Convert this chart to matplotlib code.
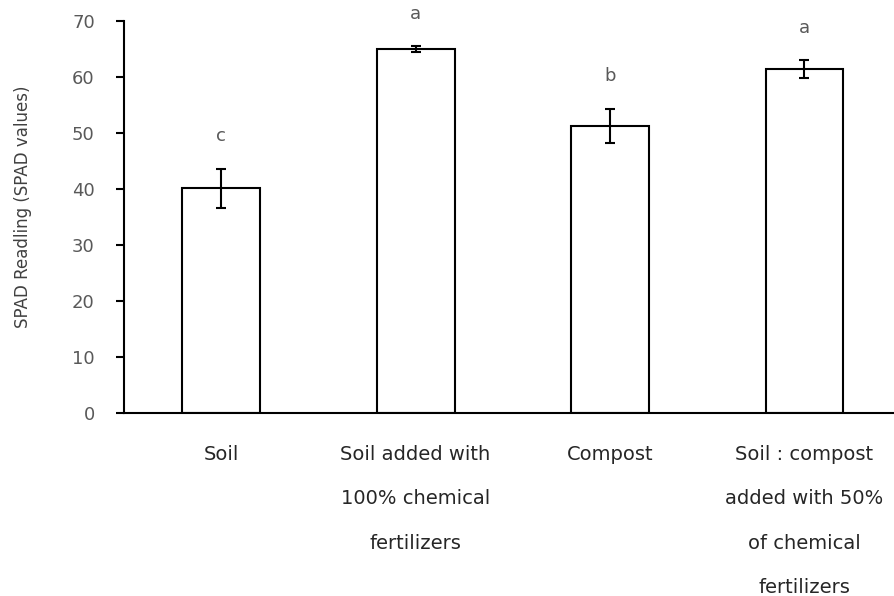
import matplotlib.pyplot as plt
import numpy as np

categories = ["Soil", "Soil added with\n100% chemical\nfertilizers", "Compost",
              "Soil : compost\nadded with 50%\nof chemical\nfertilizers"]
spad_mean = [40.1, 65.0, 51.3, 61.4]
spad_err = [3.5, 0.5, 3.0, 1.6]
letters = ["c", "a", "b", "a"]


def plot_spad():
    plt.rcParams['font.family'] = ['DejaVu Sans']
    fig = plt.figure(figsize=(8.95, 5.96), dpi=100)
    ax = fig.add_axes([0.1385, 0.307, 0.869, 0.6577])

    x = np.arange(len(categories))
    ax.bar(x, spad_mean, width=0.4, color="white", edgecolor="black", linewidth=1.5)
    ax.errorbar(x, spad_mean, yerr=spad_err, fmt="none", ecolor="black",
                elinewidth=1.5, capsize=3.5, capthick=1.5)

    for xi, m, e, l in zip(x, spad_mean, spad_err, letters):
        ax.text(xi, m + e + 5.8, l, ha="center", va="center", fontsize=13, color="#595959")

    ax.set_xlim(-0.5, 3.5)
    ax.set_ylim(0, 70)
    ax.set_yticks(np.arange(0, 71, 10))
    ax.set_xticks(x)
    ax.set_xticklabels(categories, fontsize=14, color="#262626", linespacing=2.7, va="top")
    ax.tick_params(axis="x", length=0, pad=23)
    ax.tick_params(axis="y", length=6, width=1.5, labelsize=13, labelcolor="#595959", pad=15)

    for s in ["top", "right"]:
        ax.spines[s].set_visible(False)
    ax.spines["left"].set_linewidth(1.5)
    ax.spines["bottom"].set_linewidth(1.5)

    ax.set_ylabel("SPAD Readling (SPAD values)", fontsize=12, color="#404040")
    ax.yaxis.set_label_coords(-0.118, 0.526)
    fig.savefig("out.png", dpi=100)
    plt.close()


if __name__ == '__main__':
    plot_spad()
